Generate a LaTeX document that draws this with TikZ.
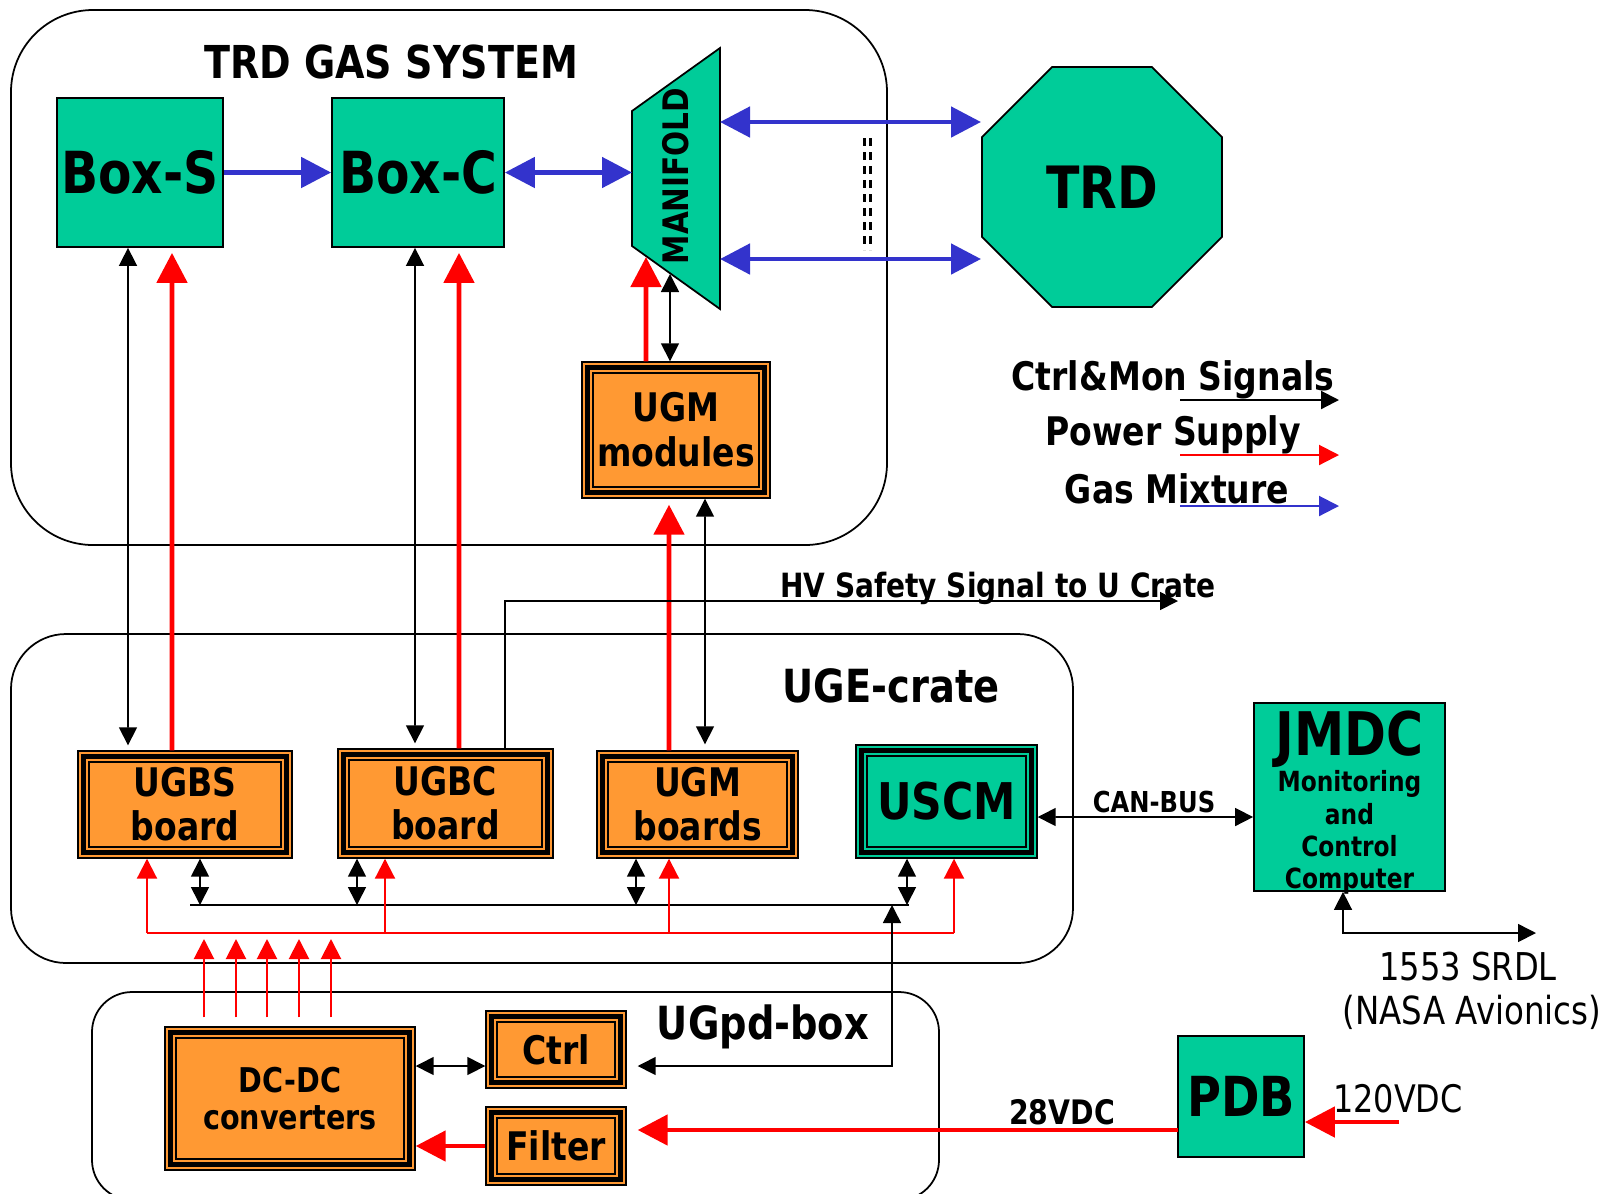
\documentclass[tikz,border=0pt]{standalone}
\usepackage{fontspec}
\setmainfont{DejaVu Sans}[FakeStretch=0.84]
\usepackage{xcolor}
\usepackage{tikz}
\usetikzlibrary{arrows.meta,shapes.geometric}

\definecolor{gasgreen}{RGB}{0,204,153}
\definecolor{ugorange}{RGB}{255,153,51}
\definecolor{gasblue}{RGB}{51,51,204}

\begin{document}
\begin{tikzpicture}[x=0.1mm, y=-0.1mm,
  region/.style={draw, line width=0.5pt, rounded corners=#1},
  gbox/.style={draw, line width=0.5pt, fill=gasgreen, inner sep=0pt, align=center},
  obox/.style={draw, line width=0.4pt, fill=ugorange, inner sep=0pt, align=center},
  lbl/.style={anchor=base, inner sep=0pt},
  gas/.style={gasblue, line width=1.4pt, >={Triangle[length=3mm,width=3mm]}},
  pwrb/.style={red, line width=1.4pt, >={Triangle[length=3mm,width=3mm]}},
  pwr/.style={red, line width=0.6pt, >={Triangle[length=2mm,width=2mm]}},
  ctl/.style={black, line width=0.45pt, >={Triangle[length=1.8mm,width=1.8mm]}}]
  \useasboundingbox (0,0) rectangle (1606,1193);

  \draw[region=8.2mm] (11,10) rectangle (887,545);
  \draw[region=5.5mm] (11,634) rectangle (1073,963);
  \draw[region=4mm] (92,992) rectangle (939,1200);

  \node[lbl, font=\bfseries\fontsize{12.9}{15}\selectfont] (title) at (391,78) {TRD GAS SYSTEM};
  \node[lbl, font=\bfseries\fontsize{13}{15}\selectfont] (ugetxt) at (891,702) {UGE-crate};
  \node[lbl, font=\bfseries\fontsize{13}{15}\selectfont] (ugpdtxt) at (763,1039) {UGpd-box};

  \node[gbox, minimum width=16.6mm, minimum height=14.9mm, font=\bfseries\fontsize{16.5}{18}\selectfont] (boxs) at (140,172.5) {Box-S};
  \node[gbox, minimum width=17.2mm, minimum height=14.9mm, font=\bfseries\fontsize{16.5}{18}\selectfont] (boxc) at (418,172.5) {Box-C};
  \coordinate (mtl) at (632,111);
  \coordinate (mtr) at (720,48);
  \coordinate (mbr) at (720,309);
  \coordinate (mbl) at (632,246);
  \draw[fill=gasgreen, line width=0.5pt] (mtl) -- (mtr) -- (mbr) -- (mbl) -- cycle;
  \node[rotate=90, inner sep=0pt, font=\bfseries\fontsize{10}{11}\selectfont] (manifold) at (676,176) {MANIFOLD};
  \node[regular polygon, regular polygon sides=8, minimum size=26mm, draw, line width=0.5pt,
    fill=gasgreen, inner sep=0pt, font=\bfseries\fontsize{16.6}{18}\selectfont] (trd) at (1102,187) {TRD};

  \node[obox, minimum width=18.8mm, minimum height=13.6mm, font=\bfseries\fontsize{11.2}{12.8}\selectfont] (ugmm) at (676,430) {UGM\\modules};
  \node[obox, minimum width=21.4mm, minimum height=10.7mm, font=\bfseries\fontsize{11.2}{12.5}\selectfont] (ugbs) at (185,804.5) {UGBS\\board};
  \node[obox, minimum width=21.5mm, minimum height=10.9mm, font=\bfseries\fontsize{11.2}{12.5}\selectfont] (ugbc) at (445.5,803.5) {UGBC\\board};
  \node[obox, minimum width=20.1mm, minimum height=10.7mm, font=\bfseries\fontsize{11.2}{12.5}\selectfont] (ugmb) at (697.5,804.5) {UGM\\boards};
  \node[gbox, line width=0.4pt, minimum width=18.1mm, minimum height=11.3mm, font=\bfseries\fontsize{14.4}{16}\selectfont] (uscm) at (946.5,801.5) {USCM};
  \node[gbox, minimum width=19.1mm, minimum height=18.8mm] (jmdc) at (1349.5,797) {};
  \node[anchor=north, inner sep=0pt, align=center, font=\bfseries\fontsize{7.9}{9.2}\selectfont] (jmdctxt) at (1349.5,710)
    {{\fontsize{17.1}{17}\selectfont JMDC}\\Monitoring\\and\\Control\\Computer};
  \node[obox, minimum width=25mm, minimum height=14.3mm, font=\bfseries\fontsize{9.7}{10.6}\selectfont] (dcdc) at (290,1098.5) {DC-DC\\converters};
  \node[obox, minimum width=14mm, minimum height=7.7mm, font=\bfseries\fontsize{11.2}{13}\selectfont] (ctrl) at (556,1049.5) {Ctrl};
  \node[obox, minimum width=14mm, minimum height=7.8mm, font=\bfseries\fontsize{11.2}{13}\selectfont] (filt) at (556,1146) {Filter};
  \node[gbox, minimum width=12.6mm, minimum height=12.1mm, font=\bfseries\fontsize{15.7}{17}\selectfont] (pdb) at (1241,1096.5) {PDB};

  \foreach \n in {ugmm,ugbs,ugbc,ugmb,uscm,dcdc,ctrl,filt} {
    \draw[line width=1.4pt] ([xshift=0.6mm,yshift=-0.6mm]\n.north west) rectangle ([xshift=-0.6mm,yshift=0.6mm]\n.south east);
    \draw[line width=0.5pt] ([xshift=1.2mm,yshift=-1.2mm]\n.north west) rectangle ([xshift=-1.2mm,yshift=1.2mm]\n.south east);
  }

  \node[lbl, font=\bfseries\fontsize{11.2}{13}\selectfont] (lctl) at (1173,390) {Ctrl\&Mon Signals};
  \node[lbl, font=\bfseries\fontsize{11.2}{13}\selectfont] (lpwr) at (1173,445) {Power Supply};
  \node[lbl, font=\bfseries\fontsize{11.2}{13}\selectfont] (lgas) at (1177,503) {Gas Mixture};
  \node[lbl, font=\bfseries\fontsize{9.5}{11}\selectfont] (hvtxt) at (998,597) {HV Safety Signal to U Crate};
  \node[lbl, font=\bfseries\fontsize{8.2}{10}\selectfont] (cantxt) at (1154,812) {CAN-BUS};
  \node[lbl, font=\bfseries\fontsize{9.6}{11}\selectfont] (v28txt) at (1062,1124) {28VDC};
  \node[lbl, font=\fontsize{10.8}{12}\selectfont] (v120txt) at (1398,1112) {120VDC};
  \node[lbl, font=\fontsize{10.9}{12}\selectfont] (srdltxt) at (1468,980) {1553 SRDL};
  \node[lbl, font=\fontsize{11}{12}\selectfont] (nasatxt) at (1472,1024) {(NASA Avionics)};

  \draw[gas,->] (boxs.east) -- (boxc.west);
  \draw[gas,<->] (boxc.east) -- (boxc.east -| mtl);
  \coordinate (mr1) at (720,122);
  \coordinate (mr2) at (720,259);
  \draw[gas,<->] (mr1) -- (mr1 -| trd.west);
  \draw[gas,<->] (mr2) -- (mr2 -| trd.west);
  \draw[line width=0.85pt, dash pattern=on 0.75mm off 0.65mm] (864,138) -- (864,250);
  \draw[line width=0.85pt, dash pattern=on 0.75mm off 0.65mm] (870,138) -- (870,250);

  \draw[ctl,<->,shorten >=0.5mm] ([xshift=-1.2mm]boxs.south) -- ([xshift=-5.7mm]ugbs.north);
  \draw[pwrb,->,shorten >=0.5mm] ([xshift=-1.3mm]ugbs.north) -- ([xshift=3.2mm]boxs.south);
  \draw[ctl,<->,shorten >=0.5mm] ([xshift=-0.3mm]boxc.south) -- ([xshift=-3.05mm]ugbc.north);
  \draw[pwrb,->,shorten >=0.5mm] ([xshift=1.35mm]ugbc.north) -- ([xshift=4.1mm]boxc.south);
  \draw[pwrb,->,shorten >=0.6mm] ([xshift=-2.85mm]ugmb.north) -- ([xshift=-0.7mm]ugmm.south);
  \draw[ctl,<->,shorten >=0.6mm] ([xshift=2.9mm]ugmm.south) -- ([xshift=0.75mm]ugmb.north);
  \coordinate (mf1) at (646,257);
  \coordinate (mf2) at (670,274);
  \draw[pwrb,->] ([xshift=-3mm]ugmm.north) -- (mf1);
  \draw[ctl,<->] ([xshift=-0.6mm]ugmm.north) -- (mf2);

  \coordinate (hv) at (1178,601);
  \draw[ctl,->] ([xshift=5.95mm]ugbc.north) |- (hv);

  \coordinate (kl) at (190,905);
  \coordinate (kr) at (909,905);
  \coordinate (k1) at (200,905);
  \coordinate (k2) at (357,905);
  \coordinate (k3) at (636,905);
  \coordinate (k4) at (907,905);
  \draw[ctl] (kl) -- (kr);
  \draw[ctl,<->] (k1) -- (k1 |- ugbs.south);
  \draw[ctl,<->] (k2) -- (k2 |- ugbc.south);
  \draw[ctl,<->] (k3) -- (k3 |- ugmb.south);
  \draw[ctl,<->] (k4) -- (k4 |- uscm.south);

  \coordinate (r1) at (147,933);
  \coordinate (r2) at (385,933);
  \coordinate (r3) at (669,933);
  \coordinate (r4) at (954,933);
  \draw[pwr] (r1) -- (r4);
  \draw[pwr,->] (r1) -- (r1 |- ugbs.south);
  \draw[pwr,->] (r2) -- (r2 |- ugbc.south);
  \draw[pwr,->] (r3) -- (r3 |- ugmb.south);
  \draw[pwr,->] (r4) -- (r4 |- uscm.south);
  \foreach \x [count=\i] in {204,236,267,299,331} {
    \coordinate (dc\i) at (\x,939);
    \draw[pwr,->,shorten <=0.9mm] (dc\i |- dcdc.north) -- (dc\i);
  }

  \coordinate (kc) at (892,1066);
  \draw[ctl,<->,shorten <=1.1mm] (kc -| ctrl.east) -- (kc) -- (kc |- kl);
  \draw[ctl,<->] (kc -| dcdc.east) -- (kc -| ctrl.west);
  \draw[pwrb,->] (filt.west) -- (filt.west -| dcdc.east);
  \coordinate (v28) at (1178,1130);
  \draw[pwrb,->,shorten >=1.1mm] (v28) -- (v28 -| filt.east);
  \coordinate (v120) at (1399,1122);
  \draw[pwrb,->] (v120) -- (v120 -| pdb.east);

  \draw[ctl,<->] ([yshift=-1.55mm]uscm.east) -- ([yshift=-2mm]jmdc.west);
  \coordinate (srdl) at (1536,933);
  \draw[ctl,<->] ([xshift=-0.65mm]jmdc.south) |- (srdl);

  \coordinate (lc1) at (1180,400);
  \coordinate (lc2) at (1339,400);
  \coordinate (lp1) at (1180,455);
  \coordinate (lp2) at (1339,455);
  \coordinate (lg1) at (1180,506);
  \coordinate (lg2) at (1339,506);
  \draw[ctl,->,line width=0.6pt] (lc1) -- (lc2);
  \draw[pwr,->] (lp1) -- (lp2);
  \draw[gasblue,line width=0.6pt,-{Triangle[length=2mm,width=2mm]}] (lg1) -- (lg2);
\end{tikzpicture}
\end{document}
